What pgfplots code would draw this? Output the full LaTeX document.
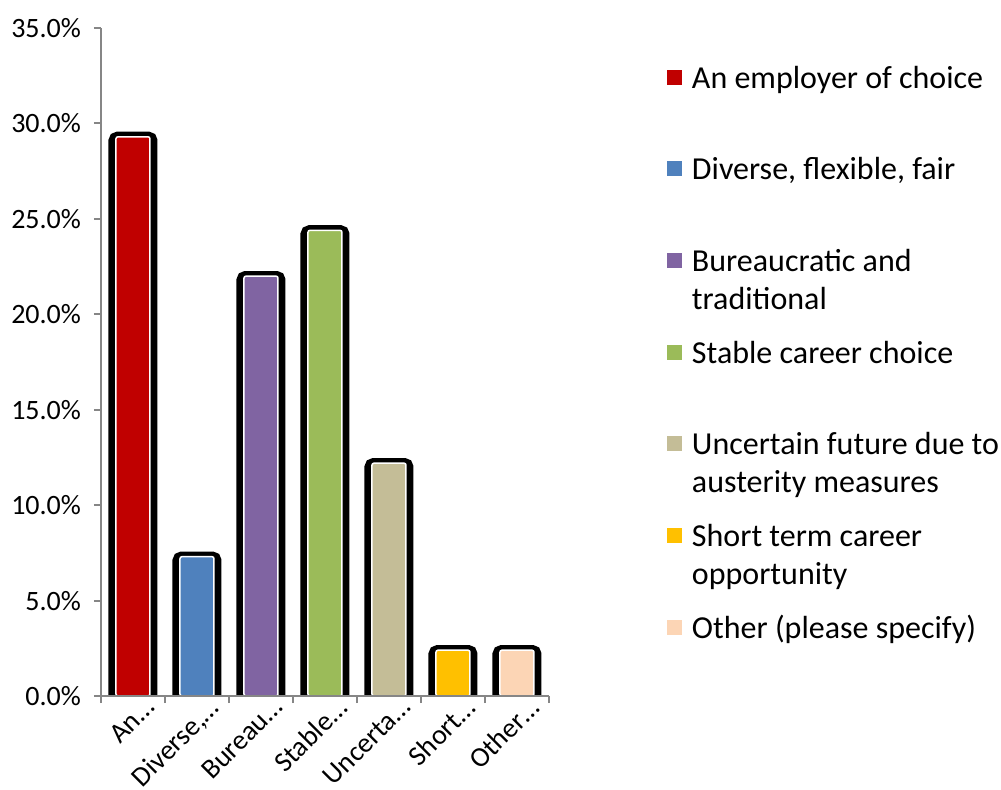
\documentclass[border=0pt]{standalone}
\usepackage{pgfplots}
\pgfplotsset{compat=1.18}
\usepackage{fontspec}
\setmainfont{Carlito}
\definecolor{c1}{HTML}{C00000}
\definecolor{c2}{HTML}{4F81BD}
\definecolor{c3}{HTML}{8064A2}
\definecolor{c4}{HTML}{9BBB59}
\definecolor{c5}{HTML}{C4BD97}
\definecolor{c6}{HTML}{FFC000}
\definecolor{c7}{HTML}{FCD5B5}
\definecolor{axgray}{HTML}{868686}
\tikzset{barsty/.style={draw=white, line width=0.75pt, rounded corners=1pt,
  preaction={draw=black, line width=7.5pt, transform canvas={yshift=-1.2pt}}}}
\begin{document}
\begin{tikzpicture}
\begin{axis}[
  scale only axis, width=224pt, height=334pt,
  xmin=-0.5, xmax=6.5, ymin=0, ymax=35,
  axis x line*=bottom, axis y line*=left,
  axis line style={draw=axgray, line width=1pt},
  tick style={draw=axgray, line width=1pt},
  tick align=outside, major tick length=3.5pt,
  ytick={0,5,...,35},
  yticklabel={\pgfmathprintnumber[fixed,fixed zerofill,precision=1]{\tick}\%},
  xtick={-0.5,0.5,...,6.5},
  x tick label as interval,
  xticklabels={An…,{Diverse,…},Bureau…,Stable…,Uncerta…,Short…,Other…},
  xticklabel style={xshift=5pt, yshift=5pt, rotate=45, anchor=north east, inner sep=1pt, font=\fontsize{14}{16}\selectfont},
  yticklabel style={xshift=-3pt, font=\fontsize{14}{16}\selectfont},
  /pgf/number format/assume math mode=true,
  axis on top,
  legend image code/.code={\fill[#1, draw=none] (0pt,-3.75pt) rectangle (7.5pt,3.75pt);},
  legend cell align=left,
  legend style={at={(1,1)}, anchor=north west, xshift=59pt, yshift=-15pt,
    draw=none, inner sep=0pt, outer sep=0pt, row sep=26.85pt, column sep=5pt,
    font=\fontsize{16}{19}\selectfont,
    nodes={text height=15pt, text depth=4pt, inner sep=0pt}},
]
\addplot[ybar, bar width=17pt, bar shift=0pt, fill=c1, barsty, forget plot] coordinates {(0,29.3)};
\addplot[ybar, bar width=17pt, bar shift=0pt, fill=c2, barsty, forget plot] coordinates {(1,7.3)};
\addplot[ybar, bar width=17pt, bar shift=0pt, fill=c3, barsty, forget plot] coordinates {(2,22.0)};
\addplot[ybar, bar width=17pt, bar shift=0pt, fill=c4, barsty, forget plot] coordinates {(3,24.4)};
\addplot[ybar, bar width=17pt, bar shift=0pt, fill=c5, barsty, forget plot] coordinates {(4,12.2)};
\addplot[ybar, bar width=17pt, bar shift=0pt, fill=c6, barsty, forget plot] coordinates {(5,2.4)};
\addplot[ybar, bar width=17pt, bar shift=0pt, fill=c7, barsty, forget plot] coordinates {(6,2.4)};
\addlegendimage{fill=c1}\addlegendentry{An employer of choice}
\addlegendimage{fill=c2}\addlegendentry{Diverse, flexible, fair}
\addlegendimage{fill=c3}\addlegendentry{\begin{tabular}[t]{@{}l@{}}Bureaucratic and\\traditional\end{tabular}}
\addlegendimage{fill=c4}\addlegendentry{Stable career choice}
\addlegendimage{fill=c5}\addlegendentry{\begin{tabular}[t]{@{}l@{}}Uncertain future due to\\austerity measures\end{tabular}}
\addlegendimage{fill=c6}\addlegendentry{\begin{tabular}[t]{@{}l@{}}Short term career\\opportunity\end{tabular}}
\addlegendimage{fill=c7}\addlegendentry{Other (please specify)}
\end{axis}
\pgfresetboundingbox
\path[use as bounding box] (-50.5pt,-46.5pt) rectangle (450pt,348pt);
\end{tikzpicture}
\end{document}
